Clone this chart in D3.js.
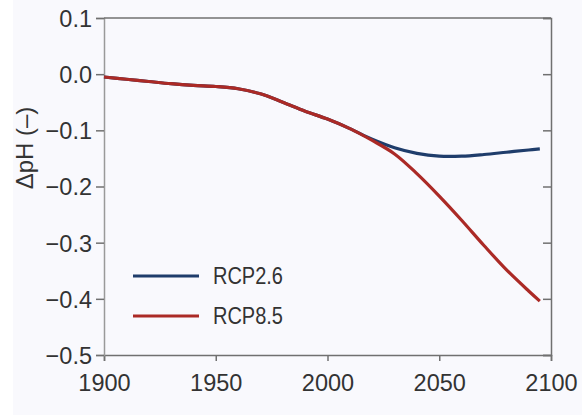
<!DOCTYPE html>
<html>
<head>
<meta charset="utf-8">
<script src="https://cdn.jsdelivr.net/npm/d3@7"></script>
<style>
  body { margin: 0; background: #fff; }
  svg { display: block; font-family: "Liberation Sans", Arial, sans-serif; }
</style>
</head>
<body>
<svg id="chart" width="582" height="415"></svg>
<script>
// historical part shared by both scenarios, then the two projections
var histYears = [1900, 1910, 1920, 1930, 1940, 1950, 1960, 1970, 1980, 1990, 2000, 2010];
var histPH = [-0.005, -0.009, -0.013, -0.017, -0.020, -0.022, -0.026, -0.035, -0.050, -0.066, -0.080, -0.097];
var projYears = [2010, 2020, 2030, 2040, 2050, 2060, 2070, 2080, 2090, 2095];
var rcp26 = [-0.097, -0.116, -0.131, -0.141, -0.146, -0.146, -0.143, -0.139, -0.135, -0.133];
var rcp85 = [-0.097, -0.118, -0.142, -0.177, -0.217, -0.260, -0.305, -0.348, -0.386, -0.404];
var xTicks = [1900, 1950, 2000, 2050, 2100];
var yTicks = [0.1, 0.0, -0.1, -0.2, -0.3, -0.4, -0.5];
var legendItems = [{name: "RCP2.6", color: "#1f3d6b"}, {name: "RCP8.5", color: "#ab2a26"}];

var margin = {top: 18, right: 31, bottom: 60, left: 104},
    width = 582 - margin.left - margin.right,
    height = 415 - margin.top - margin.bottom;

var root = d3.select("#chart");
root.append("rect")
  .attr("x", 13).attr("y", 0)
  .attr("width", 582 - 13).attr("height", 415)
  .attr("fill", "#f9f9fd");

var svg = root.append("g")
  .attr("transform", "translate(" + margin.left + "," + margin.top + ")");

var x = d3.scaleLinear().domain([1900, 2100]).range([0, width]);
var y = d3.scaleLinear().domain([-0.5, 0.1]).range([height, 0]);

var fmt = d3.format(".1f");

// axes
var xAxis = d3.axisBottom(x).tickValues(xTicks).tickFormat(d3.format("d")).tickSize(6).tickPadding(8);
var gx = svg.append("g").attr("transform", "translate(0," + height + ")").call(xAxis);
var yAxis = d3.axisLeft(y).tickValues(yTicks).tickFormat(fmt).tickSize(8).tickPadding(4);
var gy = svg.append("g").call(yAxis);
var yAxisR = d3.axisRight(y).tickValues(yTicks).tickFormat("").tickSize(-8);
var gyr = svg.append("g").attr("transform", "translate(" + width + ",0)").call(yAxisR);

[gx, gy, gyr].forEach(function(g) {
  g.select(".domain").attr("stroke", "#707070").attr("stroke-width", 1.5);
  g.selectAll(".tick line").attr("stroke", "#707070").attr("stroke-width", 1.5);
  g.selectAll(".tick text").attr("fill", "#333").style("font-size", "23.5px");
});
gy.select(".domain").attr("stroke", "#9a9a9a");
gx.selectAll(".tick text").attr("dy", "0.95em");
gy.selectAll(".tick text").attr("dy", "0.36em");

// top border
svg.append("line")
  .attr("x1", 0).attr("x2", width).attr("y1", 0).attr("y2", 0)
  .attr("stroke", "#707070").attr("stroke-width", 1.5);

// y label
svg.append("text")
  .attr("transform", "translate(" + (27 - margin.left + 6) + "," + (148 - margin.top) + ") rotate(-90)")
  .attr("text-anchor", "middle")
  .attr("fill", "#333")
  .style("font-size", "24px")
  .text("\u0394pH (\u2013)");

var line = d3.line()
  .x(function(d) { return x(d[0]); })
  .y(function(d) { return y(d[1]); })
  .curve(d3.curveCatmullRom.alpha(0.5));

var hist = histYears.map(function(yr, i) { return [yr, histPH[i]]; });
var p26 = hist.concat(projYears.slice(1).map(function(yr, i) { return [yr, rcp26[i + 1]]; }));
var p85 = hist.concat(projYears.slice(1).map(function(yr, i) { return [yr, rcp85[i + 1]]; }));

svg.append("path").datum(p26)
  .attr("d", line).attr("fill", "none")
  .attr("stroke", legendItems[0].color).attr("stroke-width", 3.2);
svg.append("path").datum(p85)
  .attr("d", line).attr("fill", "none")
  .attr("stroke", legendItems[1].color).attr("stroke-width", 3.2);

// legend
var legend = svg.selectAll(".legend")
  .data(legendItems).enter()
  .append("g")
  .attr("class", "legend")
  .attr("transform", function(d, i) { return "translate(" + (133 - margin.left) + "," + (276 - margin.top + i * 40) + ")"; });
legend.append("line")
  .attr("x1", 0).attr("x2", 66)
  .attr("stroke", function(d) { return d.color; })
  .attr("stroke-width", 3.2);
legend.append("text")
  .attr("x", 80).attr("dy", "0.33em")
  .attr("fill", "#333")
  .style("font-size", "23px")
  .attr("textLength", 70)
  .attr("lengthAdjust", "spacingAndGlyphs")
  .text(function(d) { return d.name; });
</script>
</body>
</html>
